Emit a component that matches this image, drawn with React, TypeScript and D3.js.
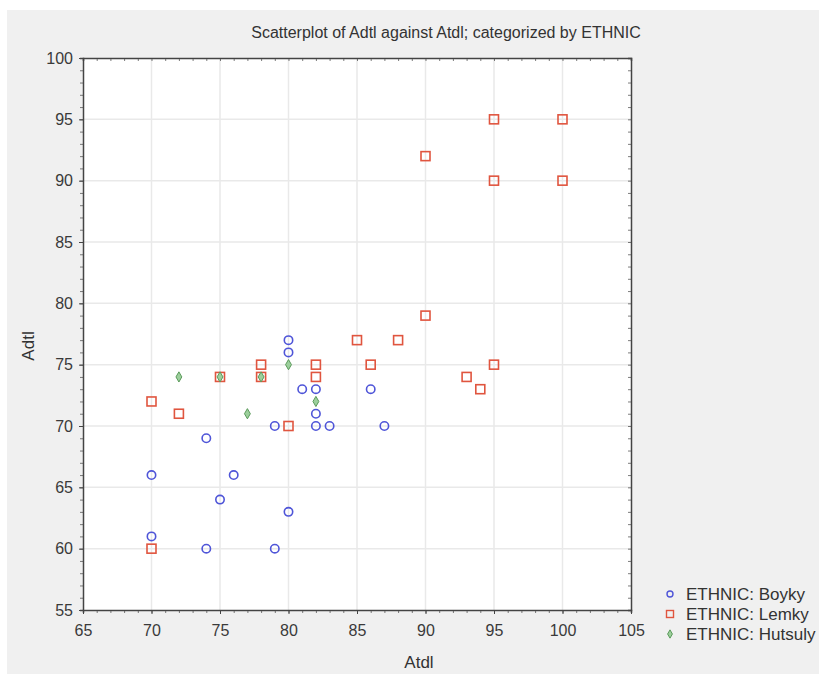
import React, { useRef, useEffect } from "react";
import * as d3 from "d3";

// Atdl (x) and Adtl (y) per ethnic group
const boyky: [number, number][] = [
  [70, 66], [70, 61], [74, 69], [74, 60], [75, 64], [76, 66], [79, 70], [79, 60],
  [80, 77], [80, 76], [80, 63], [81, 73], [82, 73], [82, 71], [82, 70], [83, 70],
  [86, 73], [87, 70],
];
const lemky: [number, number][] = [
  [70, 72], [70, 60], [72, 71], [75, 74], [78, 75], [78, 74], [80, 70], [82, 75],
  [82, 74], [85, 77], [86, 75], [88, 77], [90, 92], [90, 79], [93, 74], [94, 73],
  [95, 95], [95, 90], [95, 75], [100, 95], [100, 90],
];
const hutsuly: [number, number][] = [
  [72, 74], [75, 74], [77, 71], [78, 74], [80, 75], [82, 72],
];
const legendLabels = ["ETHNIC: Boyky", "ETHNIC: Lemky", "ETHNIC: Hutsuly"];
const xTicks = [65, 70, 75, 80, 85, 90, 95, 100, 105];
const yTicks = [55, 60, 65, 70, 75, 80, 85, 90, 95, 100];

const W = 819;
const H = 675;
const font = "Liberation Sans, Arial, sans-serif";
const blue = "#4f55d8";
const red = "#e0553f";
const green = "#5a9a5a";

const App = () => {
  const svgRef = useRef<SVGSVGElement>(null);

  useEffect(() => {
    const svg = d3.select(svgRef.current).attr("width", W).attr("height", H);
    svg.selectAll("*").remove();

    svg.append("rect").attr("width", W).attr("height", H).attr("fill", "#fff");
    svg.append("rect").attr("x", 7).attr("y", 10).attr("width", W - 7).attr("height", H - 11).attr("fill", "#f0f0f0");

    const x = d3.scaleLinear().domain([65, 105]).range([83, 631]);
    const y = d3.scaleLinear().domain([55, 100]).range([610, 58]);

    svg.append("rect")
      .attr("x", x(65)).attr("y", y(100))
      .attr("width", x(105) - x(65)).attr("height", y(55) - y(100))
      .attr("fill", "#fff");

    // grid
    const g = svg.append("g");
    g.selectAll(".gx").data(xTicks.slice(1, -1)).enter().append("line")
      .attr("x1", (d) => x(d)).attr("x2", (d) => x(d))
      .attr("y1", y(100)).attr("y2", y(55))
      .attr("stroke", "#e9e9e9").attr("stroke-width", 1.5);
    g.selectAll(".gy").data(yTicks.slice(1, -1)).enter().append("line")
      .attr("y1", (d) => y(d)).attr("y2", (d) => y(d))
      .attr("x1", x(65)).attr("x2", x(105))
      .attr("stroke", "#e9e9e9").attr("stroke-width", 1.5);

    // axes with minor ticks
    const minorX = d3.range(65, 106, 1);
    const minorY = d3.range(55, 101, 1);
    const axisColor = "#444";

    const bottom = svg.append("g").attr("transform", `translate(0,${y(55)})`)
      .call(d3.axisBottom(x).tickValues(minorX).tickSize(3).tickFormat(() => ""));
    const top = svg.append("g").attr("transform", `translate(0,${y(100)})`)
      .call(d3.axisTop(x).tickValues(minorX).tickSize(-3).tickFormat(() => ""));
    const left = svg.append("g").attr("transform", `translate(${x(65)},0)`)
      .call(d3.axisLeft(y).tickValues(minorY).tickSize(3).tickFormat(() => ""));
    const right = svg.append("g").attr("transform", `translate(${x(105)},0)`)
      .call(d3.axisRight(y).tickValues(minorY).tickSize(-3).tickFormat(() => ""));
    [bottom, top, left, right].forEach((a) => {
      a.select(".domain").attr("stroke", axisColor).attr("stroke-width", 1.5);
      a.selectAll(".tick line").attr("stroke", axisColor).attr("stroke-opacity", 0.7);
    });

    const xMajor = svg.append("g").attr("transform", `translate(0,${y(55)})`)
      .call(d3.axisBottom(x).tickValues(xTicks).tickSize(4).tickPadding(11));
    const yMajor = svg.append("g").attr("transform", `translate(${x(65)},0)`)
      .call(d3.axisLeft(y).tickValues(yTicks).tickSize(4).tickPadding(6));
    [xMajor, yMajor].forEach((a) => {
      a.select(".domain").remove();
      a.selectAll(".tick line").attr("stroke", axisColor);
      a.selectAll(".tick text").attr("fill", "#3a3a3a").attr("font-size", 16).attr("font-family", font);
    });

    // points
    const pts = svg.append("g");
    pts.selectAll(".b").data(boyky).enter().append("circle")
      .attr("cx", (d) => x(d[0])).attr("cy", (d) => y(d[1])).attr("r", 4.2)
      .attr("fill", "none").attr("stroke", blue).attr("stroke-width", 1.6);
    pts.selectAll(".l").data(lemky).enter().append("rect")
      .attr("x", (d) => x(d[0]) - 4.5).attr("y", (d) => y(d[1]) - 4.5)
      .attr("width", 9).attr("height", 9)
      .attr("fill", "none").attr("stroke", red).attr("stroke-width", 1.6);
    const diamond = d3.symbol().type(d3.symbolDiamond).size(30);
    pts.selectAll(".h").data(hutsuly).enter().append("path")
      .attr("d", diamond)
      .attr("transform", (d) => `translate(${x(d[0])},${y(d[1])})`)
      .attr("fill", "#9ccf9c").attr("stroke", green).attr("stroke-width", 1);

    // title and axis labels
    svg.append("text").attr("x", 446).attr("y", 38).attr("text-anchor", "middle")
      .attr("font-family", font).attr("font-size", 16).attr("fill", "#333")
      .text("Scatterplot of Adtl against Atdl; categorized by ETHNIC");
    svg.append("text").attr("x", 419).attr("y", 668).attr("text-anchor", "middle")
      .attr("font-family", font).attr("font-size", 17).attr("fill", "#333").text("Atdl");
    svg.append("text").attr("transform", "translate(34,346) rotate(-90)")
      .attr("text-anchor", "middle")
      .attr("font-family", font).attr("font-size", 17).attr("fill", "#333").text("Adtl");

    // legend
    const lg = svg.append("g").attr("transform", "translate(670,594)");
    legendLabels.forEach((lab, i) => {
      const row = lg.append("g").attr("transform", `translate(0,${i * 20})`);
      if (i === 0) row.append("circle").attr("r", 3).attr("fill", "none").attr("stroke", blue).attr("stroke-width", 1.4);
      if (i === 1) row.append("rect").attr("x", -3.5).attr("y", -3.5).attr("width", 7).attr("height", 7)
        .attr("fill", "none").attr("stroke", red).attr("stroke-width", 1.4);
      if (i === 2) row.append("path").attr("d", d3.symbol().type(d3.symbolDiamond).size(20))
        .attr("fill", "#9ccf9c").attr("stroke", green);
      row.append("text").attr("x", 16).attr("y", 6).attr("font-family", font)
        .attr("font-size", 17).attr("fill", "#333").text(lab);
    });
  }, []);

  return <svg ref={svgRef} style={{ position: "absolute", left: 0, top: 0 }} />;
};

export default App;
